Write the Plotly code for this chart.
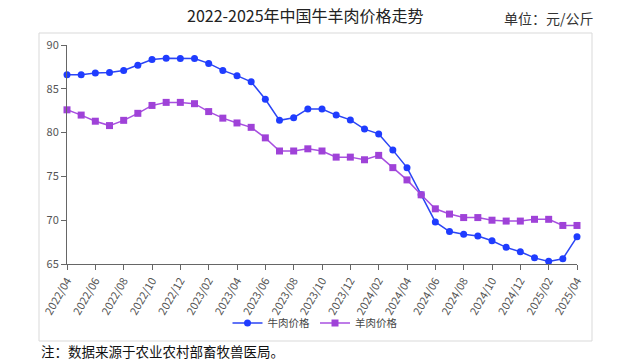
import plotly.graph_objects as go

months = ["2022/04","2022/05","2022/06","2022/07","2022/08","2022/09","2022/10","2022/11","2022/12",
          "2023/01","2023/02","2023/03","2023/04","2023/05","2023/06","2023/07","2023/08","2023/09",
          "2023/10","2023/11","2023/12","2024/01","2024/02","2024/03","2024/04","2024/05","2024/06",
          "2024/07","2024/08","2024/09","2024/10","2024/11","2024/12","2025/01","2025/02","2025/03","2025/04"]

beef = [86.6, 86.6, 86.8, 86.85, 87.1, 87.7, 88.35, 88.5, 88.45,
        88.45, 87.9, 87.1, 86.5, 85.8, 83.8, 81.4, 81.7, 82.7,
        82.7, 82.0, 81.45, 80.4, 79.85, 78.0, 76.0, 72.9, 69.8,
        68.7, 68.4, 68.2, 67.65, 66.9, 66.4, 65.7, 65.3, 65.6, 68.1]

mutton = [82.6, 82.0, 81.3, 80.8, 81.4, 82.2, 83.1, 83.45, 83.45,
          83.3, 82.4, 81.65, 81.1, 80.6, 79.4, 77.9, 77.9, 78.15,
          77.9, 77.2, 77.2, 76.9, 77.4, 76.0, 74.6, 72.9, 71.3,
          70.7, 70.3, 70.3, 70.0, 69.9, 69.9, 70.1, 70.1, 69.4, 69.4]

tick_labels = months[::2]
y_ticks = [65, 70, 75, 80, 85, 90]

idx = list(range(len(months)))
FONT = "Noto Sans CJK SC"

fig = go.Figure()
fig.add_trace(go.Scatter(
    x=idx, y=beef, name="牛肉价格", mode="lines+markers",
    line=dict(color="#2b45f5", width=1.5),
    marker=dict(symbol="circle", size=7, color="#1f3cff"),
    cliponaxis=False, customdata=months,
))
fig.add_trace(go.Scatter(
    x=idx, y=mutton, name="羊肉价格", mode="lines+markers",
    line=dict(color="#a850e0", width=1.5),
    marker=dict(symbol="square", size=7, color="#9f42d8"),
    cliponaxis=False, customdata=months,
))

W, H = 628, 362
L, R, T, B = 67, 577, 45, 264
pw, ph = R - L, B - T

def px_to_paper_x(px):
    return (px - L) / pw

def px_to_paper_y(py):
    return (B - py) / ph

fig.add_shape(type="rect", xref="paper", yref="paper",
              x0=px_to_paper_x(39), x1=px_to_paper_x(592),
              y0=px_to_paper_y(341), y1=px_to_paper_y(33),
              line=dict(color="#d9d9d9", width=1), fillcolor="rgba(0,0,0,0)", layer="below")

fig.add_annotation(text="2022-2025年中国牛羊肉价格走势", xref="paper", yref="paper",
                   x=px_to_paper_x(305), y=px_to_paper_y(15), showarrow=False,
                   xanchor="center", yanchor="middle",
                   font=dict(family=FONT, size=16, color="#222222"))
fig.add_annotation(text="单位：元/公斤", xref="paper", yref="paper",
                   x=px_to_paper_x(596), y=px_to_paper_y(18), showarrow=False,
                   xanchor="right", yanchor="middle",
                   font=dict(family=FONT, size=14, color="#333333"))
fig.add_annotation(text="注：数据来源于农业农村部畜牧兽医局。", xref="paper", yref="paper",
                   x=px_to_paper_x(39), y=px_to_paper_y(351), showarrow=False,
                   xanchor="left", yanchor="middle",
                   font=dict(family=FONT, size=13.5, color="#111111"))

fig.update_layout(
    width=W, height=H,
    margin=dict(l=L, r=W - R, t=T, b=H - B),
    paper_bgcolor="white", plot_bgcolor="white",
    showlegend=True,
    legend=dict(orientation="h", x=px_to_paper_x(315), xanchor="center",
                y=px_to_paper_y(323), yanchor="middle",
                font=dict(family=FONT, size=10.5, color="#444444"),
                itemwidth=30, bgcolor="rgba(0,0,0,0)"),
    font=dict(family=FONT),
)
fig.update_xaxes(range=[0, len(months) - 1], tickmode="array",
                 tickvals=idx[::2], ticktext=tick_labels, tickangle=-60,
                 showline=True, linecolor="#666666", linewidth=1,
                 ticks="outside", ticklen=5, tickcolor="#666666",
                 showgrid=False, zeroline=False,
                 tickfont=dict(family=FONT, size=11, color="#555555"))
fig.update_yaxes(range=[65, 90], tickmode="array", tickvals=y_ticks,
                 showline=True, linecolor="#666666", linewidth=1,
                 ticks="outside", ticklen=5, tickcolor="#666666",
                 showgrid=False, zeroline=False,
                 tickfont=dict(family=FONT, size=11, color="#555555"))

fig.write_html("out.html", config={"displayModeBar": False},
               post_script="document.body.style.margin='0';document.body.style.padding='0';")
